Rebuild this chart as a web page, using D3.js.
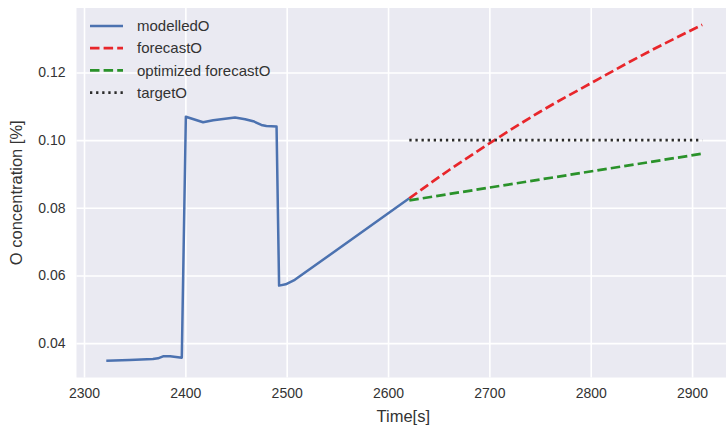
<!DOCTYPE html>
<html>
<head>
<meta charset="utf-8">
<script src="https://cdn.jsdelivr.net/npm/d3@7"></script>
<style>
  body { margin: 0; background: #fff; }
  svg { display: block; font-family: "Liberation Sans", Arial, sans-serif; }
  .tick text { fill: #333; }
</style>
</head>
<body>
<div id="chart"></div>
<script>
// modelled O concentration
var modelledTime = [2322, 2345, 2368, 2373, 2378, 2385, 2396.5, 2400.5, 2417.5, 2427.5, 2449, 2459, 2467, 2475, 2480, 2490, 2492.5, 2499, 2508, 2621];
var modelledO    = [0.0348, 0.0350, 0.0353, 0.0355, 0.0361, 0.0361, 0.0357, 0.1069, 0.1053, 0.1059, 0.1067, 0.1062, 0.1056, 0.1045, 0.1042, 0.1040, 0.0570, 0.0574, 0.0587, 0.0828];

// forecast without optimisation
var forecastTime = [2621, 2660, 2705, 2750, 2800, 2850, 2910];
var forecastO    = [0.0828, 0.0911, 0.1000, 0.1084, 0.1168, 0.1250, 0.1341];

// optimized forecast
var optimizedTime = [2621, 2910];
var optimizedO    = [0.0822, 0.0960];

// target level
var targetTime = [2621, 2910];
var targetO    = [0.100, 0.100];

var xTicks = [2300, 2400, 2500, 2600, 2700, 2800, 2900];
var yTicks = [0.04, 0.06, 0.08, 0.10, 0.12];

var series = [
  {label: "modelledO", t: modelledTime, v: modelledO, color: "#4c72b0", dash: null},
  {label: "forecastO", t: forecastTime, v: forecastO, color: "#e8262b", dash: "9.5,4.1"},
  {label: "optimized forecastO", t: optimizedTime, v: optimizedO, color: "#2a922a", dash: "9.5,4.1"},
  {label: "targetO", t: targetTime, v: targetO, color: "#2b2b2b", dash: "2.3,3.8"}
];

var width = 726, height = 426;
var plot = {left: 76.5, right: 732, top: 8, bottom: 377.5};

// matplotlib-style 5% margins around the data
var allT = d3.merge(series.map(function (s) { return s.t; })),
    allV = d3.merge(series.map(function (s) { return s.v; }));
var tExt = d3.extent(allT), vExt = d3.extent(allV);
var tPad = (tExt[1] - tExt[0]) * 0.05, vPad = (vExt[1] - vExt[0]) * 0.05;

var xScale = d3.scaleLinear().domain([tExt[0] - tPad, tExt[1] + tPad]).range([plot.left, plot.right]);
var yScale = d3.scaleLinear().domain([vExt[0] - vPad, vExt[1] + vPad]).range([plot.bottom, plot.top]);

var svg = d3.select("#chart").append("svg")
    .attr("width", width)
    .attr("height", height);

svg.append("rect")
    .attr("x", plot.left)
    .attr("y", plot.top)
    .attr("width", plot.right - plot.left)
    .attr("height", plot.bottom - plot.top)
    .attr("fill", "#eaeaf2");

// grid
svg.append("g")
    .attr("transform", "translate(0," + plot.bottom + ")")
    .call(d3.axisBottom(xScale).tickValues(xTicks).tickSize(-(plot.bottom - plot.top)).tickFormat(""))
    .call(function (g) {
      g.select(".domain").remove();
      g.selectAll("line").attr("stroke", "#fff").attr("stroke-width", 1.6);
    });

svg.append("g")
    .attr("transform", "translate(" + plot.left + ",0)")
    .call(d3.axisLeft(yScale).tickValues(yTicks).tickSize(-(plot.right - plot.left)).tickFormat(""))
    .call(function (g) {
      g.select(".domain").remove();
      g.selectAll("line").attr("stroke", "#fff").attr("stroke-width", 1.6);
    });

// tick labels
svg.append("g")
    .attr("transform", "translate(0," + plot.bottom + ")")
    .call(d3.axisBottom(xScale).tickValues(xTicks).tickSize(0).tickPadding(11).tickFormat(d3.format("d")))
    .call(function (g) {
      g.select(".domain").remove();
      g.selectAll("text").attr("font-size", 14).attr("font-family", "Liberation Sans, Arial, sans-serif");
    });

svg.append("g")
    .attr("transform", "translate(" + plot.left + ",0)")
    .call(d3.axisLeft(yScale).tickValues(yTicks).tickSize(0).tickPadding(11).tickFormat(d3.format(".2f")))
    .call(function (g) {
      g.select(".domain").remove();
      g.selectAll("text").attr("font-size", 14).attr("font-family", "Liberation Sans, Arial, sans-serif");
    });

// axis labels
svg.append("text")
    .attr("x", (plot.left + plot.right) / 2 - 1)
    .attr("y", 422)
    .attr("text-anchor", "middle")
    .attr("font-size", 16.5)
    .attr("fill", "#333")
    .text("Time[s]");

svg.append("text")
    .attr("transform", "translate(22," + (plot.top + plot.bottom) / 2 + ") rotate(-90)")
    .attr("text-anchor", "middle")
    .attr("font-size", 16.5)
    .attr("fill", "#333")
    .text("O concentration [%]");

// lines
var line = d3.line()
    .x(function (d) { return xScale(d[0]); })
    .y(function (d) { return yScale(d[1]); });

svg.append("g").selectAll("path")
    .data(series)
  .enter().append("path")
    .attr("d", function (s) {
      line.curve(s.label === "forecastO" ? d3.curveMonotoneX : d3.curveLinear);
      return line(d3.zip(s.t, s.v));
    })
    .attr("fill", "none")
    .attr("stroke", function (s) { return s.color; })
    .attr("stroke-width", function (s) { return s.dash ? 2.7 : 2.5; })
    .attr("stroke-dasharray", function (s) { return s.dash; })
    .attr("stroke-linejoin", "round");

// legend (no frame, seaborn style)
var legend = svg.append("g")
    .attr("transform", "translate(90,26)");

var item = legend.selectAll("g")
    .data(series)
  .enter().append("g")
    .attr("transform", function (d, i) { return "translate(0," + i * 22.2 + ")"; });

item.append("line")
    .attr("x1", 0)
    .attr("x2", 33)
    .attr("stroke", function (s) { return s.color; })
    .attr("stroke-width", function (s) { return s.dash ? 2.7 : 2.5; })
    .attr("stroke-dasharray", function (s) { return s.dash; });

item.append("text")
    .attr("x", 47)
    .attr("dy", "0.35em")
    .attr("font-size", 15)
    .attr("fill", "#333")
    .text(function (s) { return s.label; });
</script>
</body>
</html>
